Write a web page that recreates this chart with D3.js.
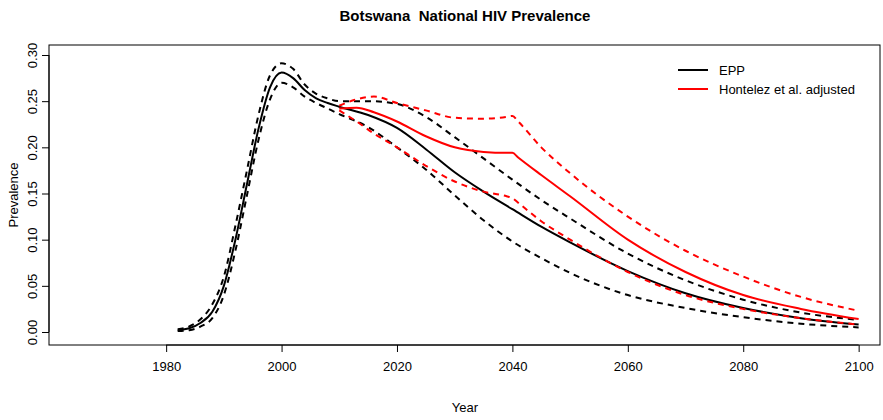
<!DOCTYPE html><html><head><script src="https://cdn.jsdelivr.net/npm/d3@7"></script>
<style>body{margin:0;background:#fff}text{font-family:"Liberation Sans",Arial,sans-serif}</style></head><body>
<svg id="c" width="883" height="420"></svg>
<script>
const years=[1982,1984,1986,1988,1990,1992,1994,1996,1998,2000,2002,2004,2006,2008,2010,2015,2020,2025,2030,2035,2040,2045,2050,2060,2070,2080,2090,2100];
const eppMid=[0.002,0.004,0.01,0.022,0.05,0.1,0.16,0.22,0.265,0.281,0.275,0.262,0.253,0.248,0.244,0.235,0.221,0.198,0.173,0.152,0.133,0.114,0.097,0.066,0.042,0.026,0.015,0.008];
const eppHi=[0.003,0.006,0.014,0.03,0.06,0.115,0.175,0.235,0.278,0.291,0.285,0.268,0.258,0.253,0.25,0.25,0.247,0.233,0.211,0.188,0.165,0.143,0.123,0.085,0.056,0.035,0.021,0.013];
const eppLo=[0.001,0.002,0.006,0.015,0.04,0.088,0.148,0.208,0.252,0.27,0.265,0.255,0.248,0.242,0.236,0.222,0.2,0.176,0.148,0.121,0.098,0.08,0.064,0.04,0.026,0.016,0.009,0.005];
const rYears=[2010,2013,2016,2020,2025,2030,2035,2039,2040,2041,2045,2050,2060,2070,2080,2090,2100];
const redMid=[0.242,0.243,0.238,0.228,0.212,0.2,0.195,0.194,0.194,0.189,0.17,0.147,0.1,0.065,0.04,0.025,0.014];
const redHi=[0.245,0.252,0.255,0.248,0.24,0.232,0.231,0.233,0.234,0.228,0.2,0.172,0.125,0.088,0.06,0.038,0.023];
const redLo=[0.24,0.228,0.215,0.2,0.18,0.163,0.152,0.147,0.145,0.14,0.12,0.1,0.065,0.04,0.025,0.015,0.008];
const xTicks=[1980,2000,2020,2040,2060,2080,2100];
const yTicks=[0,0.05,0.1,0.15,0.2,0.25,0.3];
const svg=d3.select("#c");
const L=49,R=880,T=45,B=345;
const x=d3.scaleLinear().domain([1959.7,2103.7]).range([L,R]);
const y=d3.scaleLinear().domain([0,0.3]).range([332,55]);
svg.append("rect").attr("x",L).attr("y",T).attr("width",R-L).attr("height",B-T).attr("fill","none").attr("stroke","#000");
svg.append("g").attr("transform",`translate(0,${B})`).call(d3.axisBottom(x).tickValues(xTicks).tickFormat(d3.format("d")).tickSize(7).tickSizeOuter(0)).call(g=>{g.select(".domain").attr("d",`M${x(1980)},0H${x(2100)}`);g.selectAll("text").attr("font-size",13).attr("dy","1.2em");});
svg.append("g").attr("transform",`translate(${L},0)`).call(d3.axisLeft(y).tickValues(yTicks).tickFormat(d3.format(".2f")).tickSize(7).tickSizeOuter(0)).call(g=>{g.select(".domain").attr("d",`M0,${y(0)}V${y(0.3)}`);g.selectAll("text").attr("font-size",13).attr("transform","rotate(-90)").attr("text-anchor","middle").attr("x",0).attr("y",-12).attr("dy","0");});
const line=(xs)=>d3.line().x((d,i)=>x(xs[i])).y(d=>y(d)).curve(d3.curveMonotoneX);
function draw(xs,data,col,dash){svg.append("path").attr("d",line(xs)(data)).attr("fill","none").attr("stroke",col).attr("stroke-width",2).attr("stroke-dasharray",dash?"6,5":null);}
draw(years,eppHi,"#000",1);draw(years,eppLo,"#000",1);draw(years,eppMid,"#000",0);
draw(rYears,redHi,"red",1);draw(rYears,redLo,"red",1);draw(rYears,redMid,"red",0);
svg.append("text").attr("x",465).attr("y",21).attr("text-anchor","middle").attr("font-weight","bold").attr("font-size",15).attr("xml:space","preserve").style("white-space","pre").text("Botswana  National HIV Prevalence");
svg.append("text").attr("x",465).attr("y",412).attr("text-anchor","middle").attr("font-size",13).text("Year");
svg.append("text").attr("transform","translate(18,195) rotate(-90)").attr("text-anchor","middle").attr("font-size",13).text("Prevalence");
[["EPP","#000",70],["Hontelez et al. adjusted","red",89]].forEach(([t,c,yy])=>{svg.append("line").attr("x1",678).attr("x2",708).attr("y1",yy).attr("y2",yy).attr("stroke",c).attr("stroke-width",2);svg.append("text").attr("x",719).attr("y",yy+5).attr("font-size",13).text(t);});
</script></body></html>
